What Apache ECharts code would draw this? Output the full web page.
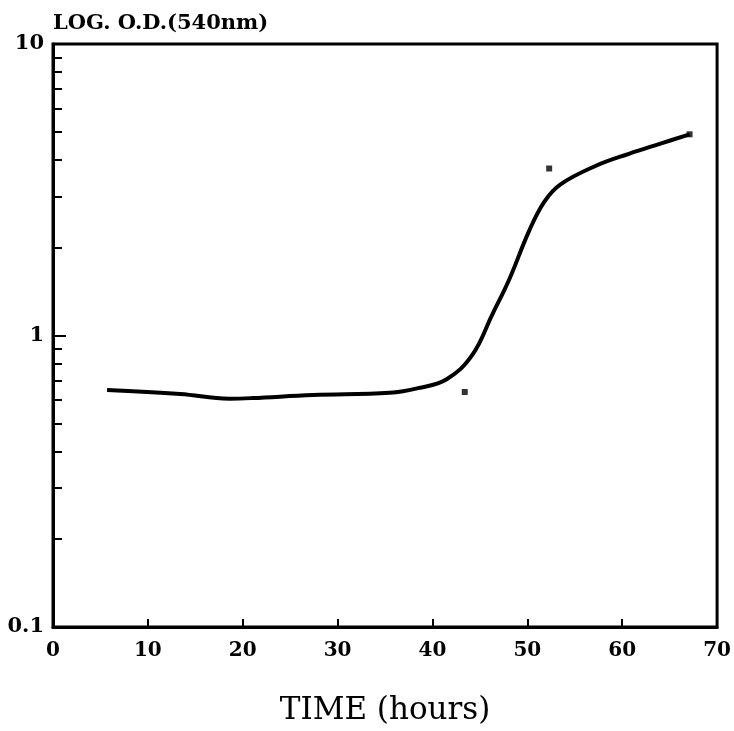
<!DOCTYPE html>
<html>
<head>
<meta charset="utf-8">
<script src="https://cdn.jsdelivr.net/npm/echarts@6/dist/echarts.min.js"></script>
<style>
html,body{margin:0;padding:0;background:#fff;}
#chart{width:734px;height:731px;}
</style>
</head>
<body>
<div id="chart"></div>
<script>
// Curve (hours, O.D. at 540 nm)
const curveHours = [5.7, 13.4, 18.6, 21, 27.4, 35.5, 38.5, 41.5, 44.2, 46.3, 48.1, 50.2, 51.8, 53.5, 57.3, 60.7, 64.2, 67.1];
const curveOD    = [0.65, 0.63, 0.607, 0.61, 0.625, 0.636, 0.66, 0.708, 0.858, 1.18, 1.56, 2.29, 2.88, 3.3, 3.83, 4.2, 4.57, 4.9];
// Isolated plotted points
const pointHours = [43.4, 52.3, 67.1];
const pointOD    = [0.64, 3.74, 4.9];
// Axis ticks
const xTicks = [0, 10, 20, 30, 40, 50, 60, 70];
const yMajorTicks = [0.1, 1, 10];
const yMinorTicks = [0.2, 0.3, 0.4, 0.5, 0.6, 0.7, 0.8, 0.9, 2, 3, 4, 5, 6, 7, 8, 9];
const yTitle = 'LOG. O.D.(540nm)';
const xTitle = 'TIME (hours)';

const font = 'DejaVu Serif';
const chart = echarts.init(document.getElementById('chart'), null, {renderer: 'canvas'});
chart.setOption({
  animation: false,
  backgroundColor: '#fff',
  grid: {left: 53, right: 16, top: 44, bottom: 88, show: true, borderColor: '#000', borderWidth: 3, backgroundColor: 'transparent'},
  xAxis: {
    type: 'value', min: 0, max: 70, interval: 10,
    name: xTitle, nameLocation: 'middle', nameGap: 68,
    nameTextStyle: {fontFamily: font, fontSize: 31, color: '#000'},
    axisLine: {show: true, lineStyle: {color: '#000', width: 3}},
    axisTick: {show: true, inside: true, length: 8, lineStyle: {color: '#000', width: 2}, customValues: xTicks},
    axisLabel: {fontFamily: font, fontWeight: 'bold', fontSize: 20, color: '#000', margin: 14, customValues: xTicks},
    splitLine: {show: false}
  },
  yAxis: [{
    type: 'log', logBase: 10, min: 0.1, max: 10,
    name: yTitle, nameLocation: 'end', nameGap: 10,
    nameTextStyle: {fontFamily: font, fontWeight: 'bold', fontSize: 21, color: '#000', align: 'left'},
    axisLine: {show: true, lineStyle: {color: '#000', width: 3}},
    axisTick: {show: true, inside: true, length: 13, lineStyle: {color: '#000', width: 2}, customValues: yMajorTicks},
    axisLabel: {fontFamily: font, fontWeight: 'bold', fontSize: 21, color: '#000', margin: 9, customValues: yMajorTicks},
    splitLine: {show: false}
  }, {
    type: 'log', logBase: 10, min: 0.1, max: 10, position: 'left',
    axisLine: {show: false},
    axisTick: {show: true, inside: true, length: 9, lineStyle: {color: '#000', width: 2}, customValues: yMinorTicks},
    axisLabel: {show: false},
    splitLine: {show: false}
  }],
  series: [{
    type: 'line',
    data: curveHours.map((h, i) => [h, curveOD[i]]),
    smooth: 0.4,
    showSymbol: false,
    lineStyle: {color: '#000', width: 4}
  }, {
    type: 'scatter',
    data: pointHours.map((h, i) => [h, pointOD[i]]),
    symbol: 'rect', symbolSize: 6,
    itemStyle: {color: '#000'}
  }]
});
</script>
</body>
</html>
